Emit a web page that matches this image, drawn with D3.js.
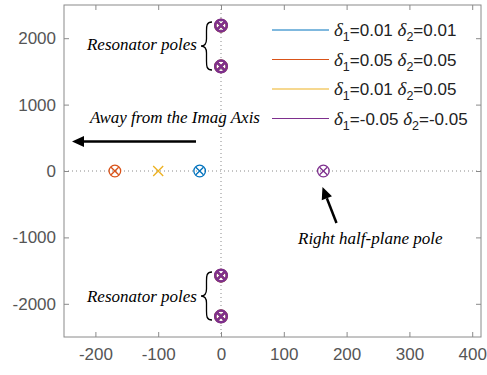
<!DOCTYPE html>
<html>
<head>
<meta charset="utf-8">
<script src="https://cdn.jsdelivr.net/npm/d3@7"></script>
<style>
  html, body { margin: 0; padding: 0; background: #fff; }
  svg { display: block; }
</style>
</head>
<body>
<svg id="chart" width="487" height="375"></svg>
<script>
// Pole-zero map for four (delta1, delta2) parameter pairs
const delta1 = [0.01, 0.05, 0.01, -0.05];
const delta2 = [0.01, 0.05, 0.05, -0.05];
const seriesColors = ["#0072BD", "#D95319", "#EDB120", "#7E2F8E"];

// Real-axis pole and zero of each case (null: no zero drawn)
const realPoles = [-34, -169, -100, 163];
const realZeros = [-34, -169, null, 163];

// Resonator pole/zero pairs on the imaginary axis, shared by all cases
const resonatorImag = [2190, 1575, -1575, -2190];

const xTicks = [-200, -100, 0, 100, 200, 300, 400];
const yTicks = [-2000, -1000, 0, 1000, 2000];

const svg = d3.select("#chart");
const L = 64, R = 481, T = 5, B = 337;

const x = d3.scaleLinear().domain([-250, 414]).range([L, R]);
const y = d3.scaleLinear().domain([-2500, 2500]).range([B, T]);

const axisColor = "#8a8a8a";
const labelColor = "#555";
const sans = "'Liberation Sans', Arial, sans-serif";
const serif = "'Liberation Serif', 'Times New Roman', serif";
const plain = v => String(v);

// Reference lines through the origin
svg.append("line")
  .attr("x1", L).attr("x2", R).attr("y1", y(0)).attr("y2", y(0))
  .attr("stroke", "#8a8a8a").attr("stroke-width", 1).attr("stroke-dasharray", "1,3");
svg.append("line")
  .attr("x1", x(0)).attr("x2", x(0)).attr("y1", T).attr("y2", B)
  .attr("stroke", "#8a8a8a").attr("stroke-width", 1).attr("stroke-dasharray", "1,3");

// Axes (box with inward ticks on all sides)
function styleAxis(g) {
  g.select(".domain").remove();
  g.selectAll(".tick line").attr("stroke", axisColor);
  g.selectAll(".tick text").attr("fill", labelColor)
    .style("font-family", sans).style("font-size", "17px");
}
svg.append("g").attr("transform", `translate(0,${B})`)
  .call(d3.axisBottom(x).tickValues(xTicks).tickFormat(plain).tickSizeInner(-5).tickPadding(11))
  .call(styleAxis);
svg.append("g").attr("transform", `translate(0,${T})`)
  .call(d3.axisTop(x).tickValues(xTicks).tickSizeInner(-5).tickFormat(""))
  .call(styleAxis);
svg.append("g").attr("transform", `translate(${L},0)`)
  .call(d3.axisLeft(y).tickValues(yTicks).tickFormat(plain).tickSizeInner(-5).tickPadding(8))
  .call(styleAxis);
svg.append("g").attr("transform", `translate(${R},0)`)
  .call(d3.axisRight(y).tickValues(yTicks).tickSizeInner(-5).tickFormat(""))
  .call(styleAxis);
svg.append("rect")
  .attr("x", L).attr("y", T).attr("width", R - L).attr("height", B - T)
  .attr("fill", "none").attr("stroke", axisColor).attr("stroke-width", 1);

// Marker helpers
function drawCross(g, cx, cy, h, color, w) {
  g.append("path")
    .attr("d", `M${cx - h},${cy - h}L${cx + h},${cy + h}M${cx - h},${cy + h}L${cx + h},${cy - h}`)
    .attr("stroke", color).attr("stroke-width", w).attr("fill", "none");
}
function drawCircle(g, cx, cy, r, color, w) {
  g.append("circle").attr("cx", cx).attr("cy", cy).attr("r", r)
    .attr("stroke", color).attr("stroke-width", w).attr("fill", "none");
}

const marks = svg.append("g");
// Resonator poles and zeros (all cases coincide; last case drawn on top)
seriesColors.forEach((c, i) => {
  const w = i === seriesColors.length - 1 ? 2.5 : 2;
  resonatorImag.forEach(v => {
    drawCircle(marks, x(0), y(v), 5.8, c, w);
    drawCross(marks, x(0), y(v), 3.6, c, w);
  });
});
// Real-axis poles (x) and zeros (o)
seriesColors.forEach((c, i) => {
  drawCross(marks, x(realPoles[i]), y(0), realZeros[i] === null ? 5 : 3.8, c, 1.3);
  if (realZeros[i] !== null) drawCircle(marks, x(realZeros[i]), y(0), 5.8, c, 1.3);
});

// Legend
const fmt = v => "=" + v.toFixed(2);
const legend = svg.append("g");
const rowY = [30, 59.5, 89, 118.5];
seriesColors.forEach((c, i) => {
  legend.append("line")
    .attr("x1", 272).attr("x2", 329).attr("y1", rowY[i]).attr("y2", rowY[i])
    .attr("stroke", c).attr("stroke-width", 1);
  const t = legend.append("text")
    .attr("x", 334).attr("y", rowY[i] + 6)
    .style("font-family", sans).style("font-size", "17px").attr("fill", "#222");
  t.append("tspan").style("font-family", serif).style("font-style", "italic")
    .style("font-size", "19px").text("δ");
  t.append("tspan").attr("dy", 5).style("font-size", "12.5px").text("1");
  t.append("tspan").attr("dy", -5).text(fmt(delta1[i]) + " ");
  t.append("tspan").style("font-family", serif).style("font-style", "italic")
    .style("font-size", "19px").text("δ");
  t.append("tspan").attr("dy", 5).style("font-size", "12.5px").text("2");
  t.append("tspan").attr("dy", -5).text(fmt(delta2[i]));
});

// Annotations
const ann = svg.append("g")
  .style("font-family", serif).style("font-style", "italic").style("font-size", "17px")
  .attr("fill", "#000");
ann.append("text").attr("x", 197).attr("y", 50).attr("text-anchor", "end").text("Resonator poles");
ann.append("text").attr("x", 197).attr("y", 302).attr("text-anchor", "end").text("Resonator poles");
ann.append("text").attr("x", 90).attr("y", 123).text("Away from the Imag Axis");
ann.append("text").attr("x", 298).attr("y", 244).text("Right half-plane pole");

function brace(yTop, yBot, xEnd, xTip) {
  const ym = (yTop + yBot) / 2, xm = (xEnd + xTip) / 2;
  return `M${xEnd},${yTop} C${xm},${yTop} ${xm},${yTop + 4} ${xm},${yTop + 9} ` +
    `L${xm},${ym - 7} C${xm},${ym - 2} ${xm - 2},${ym} ${xTip},${ym} ` +
    `C${xm - 2},${ym} ${xm},${ym + 2} ${xm},${ym + 7} ` +
    `L${xm},${yBot - 9} C${xm},${yBot - 4} ${xm},${yBot} ${xEnd},${yBot}`;
}
svg.append("path").attr("d", brace(22, 70, 212, 201))
  .attr("fill", "none").attr("stroke", "#000").attr("stroke-width", 1.3);
svg.append("path").attr("d", brace(272, 320, 212, 201))
  .attr("fill", "none").attr("stroke", "#000").attr("stroke-width", 1.3);

function arrow(x1, y1, x2, y2, headLen, headW) {
  const a = Math.atan2(y2 - y1, x2 - x1);
  const bx = x2 - headLen * Math.cos(a), by = y2 - headLen * Math.sin(a);
  svg.append("line").attr("x1", x1).attr("y1", y1).attr("x2", bx).attr("y2", by)
    .attr("stroke", "#000").attr("stroke-width", 2.5);
  const px = -Math.sin(a) * headW / 2, py = Math.cos(a) * headW / 2;
  svg.append("path")
    .attr("d", `M${x2},${y2}L${bx + px},${by + py}L${bx - px},${by - py}Z`)
    .attr("fill", "#000");
}
arrow(196, 141.5, 72, 141.5, 12, 11);
arrow(336.5, 223, 322.5, 187, 12, 11);
</script>
</body>
</html>
